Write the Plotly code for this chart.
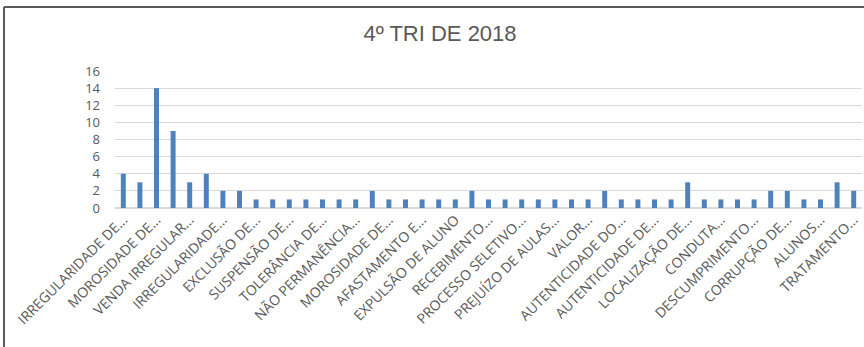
import plotly.graph_objects as go

# Complaint counts per subject, in the order they appear on the axis
values = [4, 3, 14, 9, 3, 4, 2, 2, 1, 1, 1, 1, 1, 1, 1,
          2, 1, 1, 1, 1, 1, 2, 1, 1, 1, 1, 1, 1, 1, 2,
          1, 1, 1, 1, 3, 1, 1, 1, 1, 2, 2, 1, 1, 3, 2]

# Only every other subject carries a visible label
tick_labels = [
    "IRREGULARIDADE DE...", "MOROSIDADE DE...", "VENDA IRREGULAR...",
    "IRREGULARIDADE...", "EXCLUSÃO DE...", "SUSPENSÃO DE...",
    "TOLERÂNCIA DE...", "NÃO PERMANÊNCIA...", "MOROSIDADE DE...",
    "AFASTAMENTO E...", "EXPULSÃO DE ALUNO", "RECEBIMENTO...",
    "PROCESSO SELETIVO...", "PREJUÍZO DE AULAS...", "VALOR...",
    "AUTENTICIDADE DO...", "AUTENTICIDADE DE...", "LOCALIZAÇÃO DE...",
    "CONDUTA...", "DESCUMPRIMENTO...", "CORRUPÇÃO DE...", "ALUNOS...",
    "TRATAMENTO...",
]
y_ticks = [0, 2, 4, 6, 8, 10, 12, 14, 16]

title_text = "4º TRI DE 2018"

positions = list(range(len(values)))
label_positions = positions[::2]

W, H = 864, 347
L, R, T, B = 115, 2, 71, 139
pw, ph = W - L - R, H - T - B

def px_x(px):
    return (px - L) / pw

def px_y(py):
    return (H - B - py) / ph

fig = go.Figure(
    go.Bar(
        x=positions,
        y=values,
        marker=dict(color="#4F81BD", line=dict(width=0)),
        hoverinfo="y",
    )
)

text_grey = "#595959"
fig.update_layout(
    width=W,
    height=H,
    margin=dict(l=L, r=R, t=T, b=B, pad=0, autoexpand=False),
    paper_bgcolor="white",
    plot_bgcolor="white",
    bargap=0.7,
    showlegend=False,
    font=dict(family="Open Sans, Liberation Sans, sans-serif", color=text_grey),
    title=dict(
        text=title_text,
        x=440 / W,
        xref="container",
        xanchor="center",
        y=1 - 33 / H,
        yref="container",
        yanchor="middle",
        font=dict(size=22, color=text_grey, family="Liberation Sans, sans-serif"),
    ),
    xaxis=dict(
        range=[-0.5, len(values) - 0.5],
        tickmode="array",
        tickvals=label_positions,
        ticktext=tick_labels,
        tickangle=-45,
        tickfont=dict(size=14, color=text_grey),
        showgrid=False,
        showline=False,
        zeroline=False,
        ticks="",
        ticklen=0,
        automargin=False,
    ),
    yaxis=dict(
        range=[0, 16],
        tickmode="array",
        tickvals=y_ticks,
        tickfont=dict(size=13, color=text_grey),
        showgrid=True,
        gridcolor="#D9D9D9",
        gridwidth=1,
        zeroline=True,
        zerolinecolor="#D9D9D9",
        zerolinewidth=2,
        showline=False,
        ticks="",
        ticklabelstandoff=14,
        automargin=False,
    ),
    shapes=[
        # chart frame: left and top edges
        dict(type="line", xref="paper", yref="paper",
             x0=px_x(4), x1=px_x(4), y0=px_y(7), y1=px_y(H + 5),
             line=dict(color="#5A5A5A", width=2)),
        dict(type="line", xref="paper", yref="paper",
             x0=px_x(4), x1=px_x(W + 5), y0=px_y(7), y1=px_y(7),
             line=dict(color="#5A5A5A", width=2)),
    ],
)

fig.write_html("out.html")
